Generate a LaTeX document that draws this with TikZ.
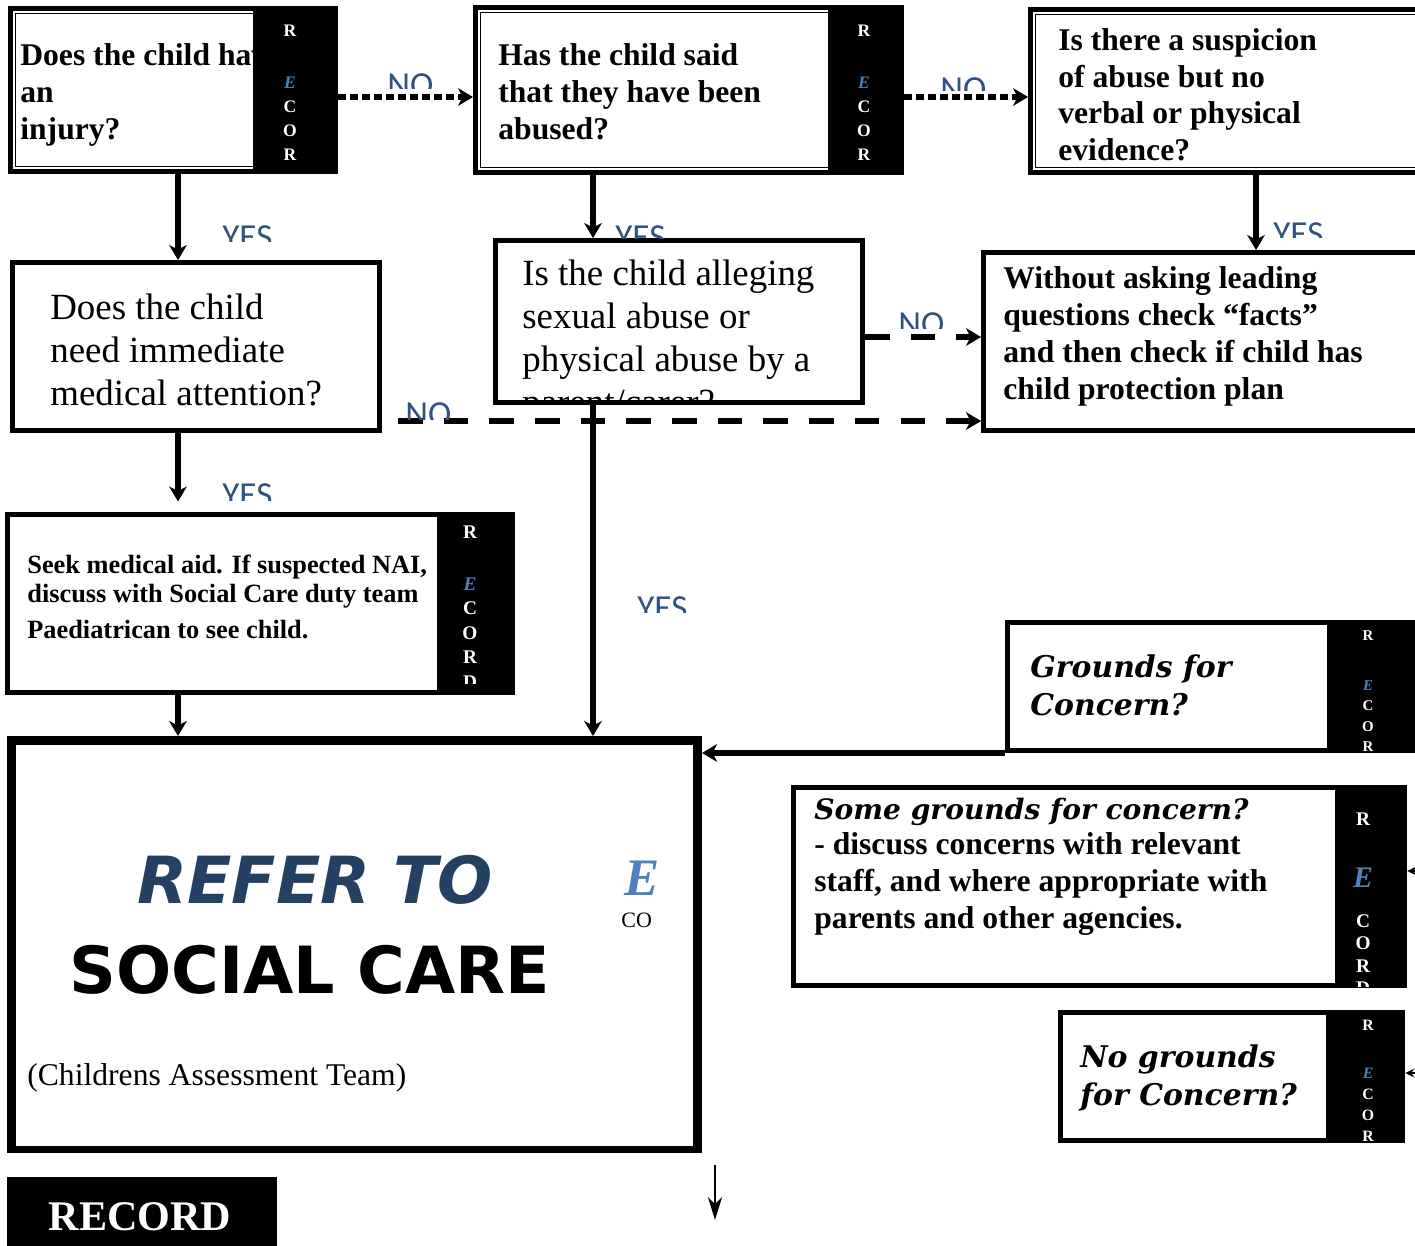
\documentclass[tikz,border=0pt]{standalone}
\usepackage{fontspec}
\setmainfont{Liberation Serif}
\newfontfamily\lblfont{Carlito}
\newfontfamily\blacksans{DejaVu Sans}[ItalicFont={DejaVu Sans Oblique},BoldItalicFont={DejaVu Sans Bold Oblique}]
\newfontfamily\blackserif{DejaVu Serif}
\usetikzlibrary{arrows.meta,fit}
\definecolor{lblblue}{HTML}{30527F}
\definecolor{referblue}{HTML}{244062}
\definecolor{recE}{HTML}{4F81BD}
\newcommand{\recE}{\textcolor{recE}{\itshape E}}
% label cut off under its baseline, as in the scanned chart
\newcommand{\cutlabel}[5]{%
  \begin{scope}
    \clip (#2-4,-#3+4) rectangle (#2+70,-#4);
    \node[lbl] (#1) at (#2,-#3) {#5};
  \end{scope}}

\begin{document}
\begin{tikzpicture}[x=0.02cm, y=0.02cm,
  frame/.style={draw, line width=2.8pt, fill=white, inner sep=0pt},
  inframe/.style={line width=0.6pt},
  strip/.style={fill=black, inner sep=0pt},
  recl/.style={anchor=base, align=center, inner sep=0pt, text=white, font=\fontsize{10}{13.6}\selectfont\bfseries},
  qbold/.style={anchor=base west, align=left, inner sep=0pt, font=\fontsize{18}{21}\selectfont\bfseries},
  qplain/.style={anchor=base west, align=left, inner sep=0pt, font=\fontsize{21}{24.4}\selectfont},
  cooper/.style={anchor=base west, align=left, inner sep=0pt, font=\blackserif\fontsize{17}{21.3}\selectfont\bfseries\itshape},
  lbl/.style={anchor=north west, inner sep=0pt, text=lblblue, font=\lblfont\fontsize{20}{20}\selectfont},
  conn/.style={line width=3.2pt, -{Stealth[length=8.5pt,width=10pt,inset=2.5pt]}},
  dotconn/.style={conn, dash pattern=on 4.5pt off 2.3pt},
  dashconn/.style={conn, dash pattern=on 14pt off 12pt},
  smallconn/.style={line width=1pt, -{Stealth[length=5pt,width=5pt]}},
  downconn/.style={line width=1.1pt, -{Stealth[length=13pt,width=8pt,inset=4pt]}}]
\useasboundingbox (0,0) rectangle (1415,-1245);
\clip (0,0) rectangle (1415,-1245);

% columns and rows for the connectors
\coordinate (noRow) at (0,-97);
\coordinate (leftCol) at (178,0);
\coordinate (midCol) at (593,0);
\coordinate (rightCol) at (1256,0);
\coordinate (allegRow) at (0,-337);
\coordinate (medRow) at (0,-421);
\coordinate (medStart) at (398,-421);
\coordinate (someIn) at (1430,-871);
\coordinate (noneIn) at (1430,-1073);
\coordinate (downFrom) at (715,-1165);
\coordinate (downTo) at (715,-1220);

% top row (text nodes sit on the baseline of their last line)
\node[frame, fit={(10.5,-8.5) (335.5,-171.5)}] (injury) {};
\draw[inframe] ([shift={(7,-7)}]injury.north west) rectangle ([shift={(-7,7)}]injury.south east);
\node[qbold] (injuryTxt) at (20,-139) {Does the child have\\an\\injury?};
\node[strip, fit={(253,-6) (338,-174)}] (injuryRec) {};
\node[recl] (injuryLet) at (290,-160) {R\\[16pt]\recE\\C\\O\\R};

\node[frame, fit={(475.5,-7.5) (901.5,-172.5)}] (said) {};
\draw[inframe] ([shift={(7,-7)}]said.north west) rectangle ([shift={(-7,7)}]said.south east);
\node[qbold] (saidTxt) at (498,-139) {Has the child said\\that they have been\\abused?};
\node[strip, fit={(828,-5) (904,-175)}] (saidRec) {};
\node[recl] (saidLet) at (864,-160) {R\\[16pt]\recE\\C\\O\\R};

\node[frame, fit={(1030.5,-9.5) (1440,-172.5)}] (suspicion) {};
\draw[inframe] ([shift={(7,-7)}]suspicion.north west) rectangle ([shift={(-7,7)}]suspicion.south east);
\node[qbold, font=\fontsize{18}{20.7}\selectfont\bfseries] (suspicionTxt) at (1058,-160) {Is there a suspicion\\of abuse but no\\verbal or physical\\evidence?};

% second row
\node[frame, fit={(12.5,-262.5) (379.5,-430.5)}] (medical) {};
\node[qplain] (medicalTxt) at (50,-405) {Does the child\\need immediate\\medical attention?};

\node[frame, fit={(495.5,-240.5) (862.5,-402.5)}] (alleging) {};
\begin{scope}
  \clip (498,-243) rectangle (860,-399);
  \node[qplain] (allegingTxt) at (522,-414) {Is the child alleging\\sexual abuse or\\physical abuse by a\\parent/carer?};
\end{scope}

\node[frame, fit={(983.5,-252.5) (1440,-430.5)}] (leading) {};
\node[qbold] (leadingTxt) at (1003,-399) {Without asking leading\\questions check “facts”\\and then check if child has\\child protection plan};

% medical aid
\node[frame, fit={(7.5,-514.5) (512.5,-692.5)}] (seekaid) {};
\node[qbold, font=\fontsize{15}{16.4}\selectfont\bfseries] (seekaidTxt) at (27,-638) {Seek medical aid. If suspected NAI,\\discuss with Social Care duty team\\[4pt]Paediatrican to see child.};
\node[strip, fit={(437,-512) (515,-695)}] (seekaidRec) {};
\begin{scope}
  \clip (437,-512) rectangle (515,-683);
  \node[recl, font=\fontsize{11}{13.9}\selectfont\bfseries] (seekaidLet) at (470,-688) {R\\[15.6pt]\recE\\C\\O\\R\\D};
\end{scope}

% refer box
\node[frame, line width=4pt, fit={(10.5,-739.5) (698.5,-1149.5)}] (refer) {};
\draw[inframe] ([shift={(8,-8)}]refer.north west) rectangle ([shift={(-8,7)}]refer.south east);
\node[anchor=base west, inner sep=0pt, text=referblue, font=\blacksans\fontsize{37}{40}\selectfont\bfseries\itshape] (referTxt) at (137,-903) {REFER TO};
\node[anchor=base west, inner sep=0pt, font=\blacksans\fontsize{37}{40}\selectfont\bfseries] (socialTxt) at (69,-993) {SOCIAL CARE};
\node[anchor=base west, inner sep=0pt, text=recE, font=\fontsize{30}{30}\selectfont\bfseries\itshape] (referE) at (624,-895) {E};
\node[anchor=base west, inner sep=0pt, font=\fontsize{12.5}{12.5}\selectfont] (referCO) at (621,-927) {CO};
\node[anchor=base west, inner sep=0pt, font=\fontsize{18}{20}\selectfont] (catTxt) at (27,-1085) {(Childrens Assessment Team)};

% right hand boxes
\node[frame, fit={(1007.5,-622.5) (1440,-750.5)}] (grounds) {};
\node[cooper] (groundsTxt) at (1030,-715) {Grounds for\\Concern?};
\node[strip, fit={(1327,-620) (1440,-753)}] (groundsRec) {};
\node[recl, font=\fontsize{8.5}{11.6}\selectfont\bfseries] (groundsLet) at (1368,-751.5) {R\\[16.7pt]\recE\\C\\O\\R};

\node[frame, fit={(793.5,-787.5) (1404.5,-985.5)}] (some) {};
\node[qbold] (someTxt) at (814,-928) {{\blackserif\itshape\fontsize{16}{21}\selectfont Some grounds for concern?}\\[-1.2pt]- discuss concerns with relevant\\staff, and where appropriate with\\parents and other agencies.};
\node[strip, fit={(1335,-785) (1407,-988)}] (someRec) {};
\begin{scope}
  \clip (1335,-785) rectangle (1407,-986);
  \node[recl, font=\fontsize{11}{12.75}\selectfont\bfseries] (someLet) at (1363,-994.5) {R\\[22.3pt]{\fontsize{17}{17}\selectfont\recE}\\[9.9pt]C\\O\\R\\D};
\end{scope}

\node[frame, fit={(1060.5,-1012.5) (1402.5,-1140.5)}] (nogrounds) {};
\node[cooper] (nogroundsTxt) at (1080,-1105) {No grounds\\for Concern?};
\node[strip, fit={(1326,-1010) (1405,-1143)}] (nogroundsRec) {};
\node[recl, font=\fontsize{9}{11.9}\selectfont\bfseries] (nogroundsLet) at (1368,-1141) {R\\[15.3pt]\recE\\C\\O\\R};

% record
\node[strip, fit={(7,-1177) (277,-1260)}] (record) {};
\node[anchor=base, inner sep=0pt, text=white, font=\fontsize{24}{24}\selectfont\bfseries] (recordTxt) at (140,-1230) {RECORD};

% connectors
\draw[dotconn] (injuryRec.east |- noRow) -- (said.west |- noRow);
\draw[dotconn] (saidRec.east |- noRow) -- (suspicion.west |- noRow);
\draw[conn] (injury.south -| leftCol) -- (medical.north -| leftCol);
\draw[conn] (said.south -| midCol) -- (alleging.north -| midCol);
\draw[conn] (suspicion.south -| rightCol) -- (leading.north -| rightCol);
\draw[dashconn] (alleging.east |- allegRow) -- (leading.west |- allegRow);
\draw[dashconn] (medStart) -- (leading.west |- medRow);
\draw[conn, shorten >=6pt] (medical.south -| leftCol) -- (seekaid.north -| leftCol);
\draw[conn] (seekaid.south -| leftCol) -- (refer.north -| leftCol);
\draw[conn] (alleging.south -| midCol) -- (refer.north -| midCol);
\draw[conn] (grounds.south west) -- (refer.north east |- grounds.south west);
\draw[smallconn] (someIn) -- (someRec.east |- someIn);
\draw[smallconn] (noneIn) -- (nogroundsRec.east |- noneIn);
\draw[downconn] (downFrom) -- (downTo);

% yes / no labels
\cutlabel{noInjury}{387}{73}{88}{NO}
\cutlabel{noSaid}{940}{77}{90}{NO}
\cutlabel{yesInjury}{222}{225}{241}{YES}
\cutlabel{yesSaid}{615}{225}{238}{YES}
\cutlabel{yesSuspicion}{1273}{222}{237}{YES}
\cutlabel{noAlleging}{898}{312}{328}{NO}
\cutlabel{noMedical}{405}{402}{419}{NO}
\cutlabel{yesMedical}{222}{483}{500}{YES}
\cutlabel{yesAlleging}{637}{596}{612}{YES}
\end{tikzpicture}
\end{document}
